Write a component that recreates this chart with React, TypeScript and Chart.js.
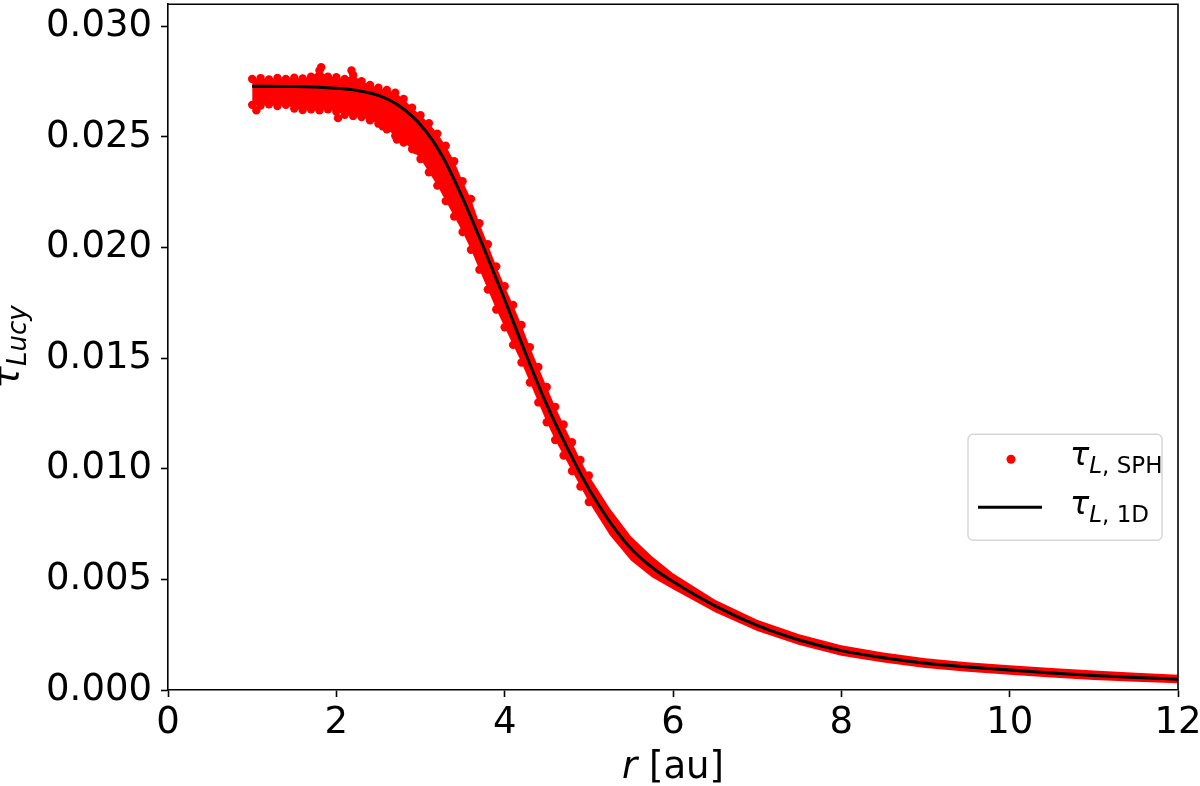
import React, { useEffect, useRef } from "react";
import { Chart, registerables } from "chart.js";
Chart.register(...registerables);

const FONT = "'DejaVu Sans', sans-serif";

// SPH particle band: radius [au], upper and lower envelope of the scatter
const sphR = [1.0, 1.1, 1.2, 1.3, 1.4, 1.5, 1.6, 1.7, 1.8, 1.9, 2.0, 2.1, 2.2, 2.3, 2.4, 2.5, 2.6, 2.7, 2.8, 2.9,
  3.0, 3.1, 3.2, 3.3, 3.4, 3.5, 3.6, 3.7, 3.8, 3.9, 4.0, 4.1, 4.2, 4.3, 4.4, 4.5, 4.6, 4.7, 4.8, 4.9,
  5.0, 5.25, 5.5, 5.75, 6.0, 6.5, 7.0, 7.5, 8.0, 8.5, 9.0, 9.5, 10.0, 10.5, 11.0, 11.5, 12.0];
const sphHi = [0.02762, 0.02766, 0.02760, 0.02767, 0.02762, 0.02768, 0.02764, 0.02772, 0.02800, 0.02772, 0.02770, 0.02762, 0.02780, 0.02752, 0.02735, 0.02722, 0.02712, 0.02700, 0.02672, 0.02632,
  0.02598, 0.02562, 0.02515, 0.02460, 0.02390, 0.02300, 0.02220, 0.02110, 0.02015, 0.01915, 0.01825, 0.01740, 0.01650, 0.01550, 0.01460, 0.01370, 0.01280, 0.01200, 0.01120, 0.01040,
  0.00970, 0.00820, 0.00695, 0.00605, 0.00528, 0.00408, 0.00318, 0.00252, 0.00202, 0.00169, 0.00144, 0.00126, 0.00112, 0.00099, 0.00088, 0.00078, 0.00069];
const sphLo = [0.02645, 0.02642, 0.02648, 0.02640, 0.02645, 0.02628, 0.02622, 0.02625, 0.02620, 0.02625, 0.02615, 0.02600, 0.02595, 0.02590, 0.02575, 0.02560, 0.02535, 0.02505, 0.02475, 0.02445,
  0.02400, 0.02340, 0.02280, 0.02210, 0.02140, 0.02070, 0.01990, 0.01900, 0.01810, 0.01720, 0.01640, 0.01560, 0.01480, 0.01390, 0.01300, 0.01210, 0.01130, 0.01060, 0.00990, 0.00920,
  0.00850, 0.00700, 0.00585, 0.00510, 0.00455, 0.00352, 0.00267, 0.00203, 0.00155, 0.00124, 0.00099, 0.00083, 0.00069, 0.00056, 0.00045, 0.00037, 0.00030];
// isolated SPH particles outside the band
const outR = [1.05, 1.82, 2.02, 2.18, 2.55, 2.72, 2.95];
const outTau = [0.02620, 0.02815, 0.02585, 0.02800, 0.02548, 0.02488, 0.02440];

// 1D reference solution
const lineR = [1.0, 1.5, 2.0, 2.25, 2.5, 2.75, 3.0, 3.25, 3.5, 3.75, 4.0, 4.25, 4.5, 4.75, 5.0, 5.25, 5.5, 5.75,
  6.0, 6.5, 7.0, 7.5, 8.0, 8.5, 9.0, 9.5, 10.0, 10.5, 11.0, 11.5, 12.0];
const lineTau = [0.02729, 0.02728, 0.02720, 0.02710, 0.02688, 0.02640, 0.02555, 0.02420, 0.02225, 0.02000, 0.01765, 0.01520, 0.01290, 0.01090, 0.00910, 0.00760, 0.00640, 0.00555,
  0.00490, 0.00380, 0.00292, 0.00226, 0.00178, 0.00146, 0.00121, 0.00104, 0.00090, 0.00077, 0.00066, 0.00057, 0.00049];

const xTicks = [0, 2, 4, 6, 8, 10, 12];
const yTicks = [0, 0.005, 0.01, 0.015, 0.02, 0.025, 0.03];
const yTickLabels = ["0.000", "0.005", "0.010", "0.015", "0.020", "0.025", "0.030"];

const RED = "#ff0000";

function pts(xs: number[], ys: number[]) {
  return xs.map((x, i) => ({ x, y: ys[i] }));
}

type Part = { t: string; f: string; dy: number };

function drawParts(ctx: CanvasRenderingContext2D, x: number, y: number, parts: Part[]) {
  let cx = x;
  for (const p of parts) {
    ctx.font = p.f;
    ctx.fillText(p.t, cx, y + p.dy);
    cx += ctx.measureText(p.t).width;
  }
  return cx - x;
}

function measureParts(ctx: CanvasRenderingContext2D, parts: Part[]) {
  let w = 0;
  for (const p of parts) {
    ctx.font = p.f;
    w += ctx.measureText(p.t).width;
  }
  return w;
}

export default function App() {
  const ref = useRef<HTMLCanvasElement>(null);
  useEffect(() => {
    document.body.style.margin = "0";
    const canvas = ref.current!;

    const decor = {
      id: "decor",
      afterDraw(chart: any) {
        const ctx: CanvasRenderingContext2D = chart.ctx;
        const a = chart.chartArea;
        ctx.save();
        ctx.strokeStyle = "#000";
        ctx.lineWidth = 1.6;
        ctx.beginPath();
        ctx.moveTo(a.left, a.top);
        ctx.lineTo(a.right, a.top);
        ctx.lineTo(a.right, a.bottom);
        ctx.stroke();

        ctx.fillStyle = "#000";
        ctx.textBaseline = "alphabetic";
        ctx.textAlign = "left";
        const xParts: Part[] = [
          { t: "r", f: `italic 37px ${FONT}`, dy: 0 },
          { t: " [au]", f: `37px ${FONT}`, dy: 0 },
        ];
        const xw = measureParts(ctx, xParts);
        drawParts(ctx, (a.left + a.right) / 2 - xw / 2, 778, xParts);

        const yParts: Part[] = [
          { t: "τ", f: `italic 38px ${FONT}`, dy: 0 },
          { t: "Lucy", f: `italic 26px ${FONT}`, dy: 8 },
        ];
        const yw = measureParts(ctx, yParts);
        ctx.save();
        ctx.translate(18, (a.top + a.bottom) / 2);
        ctx.rotate(-Math.PI / 2);
        drawParts(ctx, -yw / 2, 0, yParts);
        ctx.restore();

        // legend
        const lx = a.right - 210, ly = a.top + 430, lw = 194, lh = 106;
        ctx.beginPath();
        (ctx as any).roundRect(lx, ly, lw, lh, 5);
        ctx.fillStyle = "rgba(255,255,255,0.85)";
        ctx.fill();
        ctx.strokeStyle = "#d6d6d6";
        ctx.lineWidth = 1.5;
        ctx.stroke();

        ctx.fillStyle = RED;
        ctx.beginPath();
        ctx.arc(lx + 43, ly + 25, 4.5, 0, Math.PI * 2);
        ctx.fill();

        ctx.strokeStyle = "#000";
        ctx.lineWidth = 3;
        ctx.beginPath();
        ctx.moveTo(lx + 10, ly + 73);
        ctx.lineTo(lx + 74, ly + 73);
        ctx.stroke();

        ctx.fillStyle = "#000";
        drawParts(ctx, lx + 102, ly + 31, [
          { t: "τ", f: `italic 32px ${FONT}`, dy: 0 },
          { t: "L", f: `italic 23px ${FONT}`, dy: 8 },
          { t: ", SPH", f: `23px ${FONT}`, dy: 8 },
        ]);
        drawParts(ctx, lx + 102, ly + 80, [
          { t: "τ", f: `italic 32px ${FONT}`, dy: 0 },
          { t: "L", f: `italic 23px ${FONT}`, dy: 8 },
          { t: ", 1D", f: `23px ${FONT}`, dy: 8 },
        ]);
        ctx.restore();
      },
    };

    const markerRadius = (c: any) => (c.raw && c.raw.x <= 5.0 ? 4.2 : 0);

    const chart = new Chart(canvas, {
      type: "scatter",
      data: {
        datasets: [
          {
            label: "lo",
            data: pts(sphR, sphLo),
            showLine: true,
            borderWidth: 0,
            borderColor: RED,
            backgroundColor: RED,
            pointRadius: markerRadius,
            pointBorderWidth: 0,
            fill: false,
            order: 3,
          },
          {
            label: "hi",
            data: pts(sphR, sphHi),
            showLine: true,
            borderWidth: 0,
            borderColor: RED,
            backgroundColor: RED,
            pointRadius: markerRadius,
            pointBorderWidth: 0,
            fill: "-1",
            order: 2,
          },
          {
            label: "out",
            data: pts(outR, outTau),
            showLine: false,
            backgroundColor: RED,
            pointRadius: 4.2,
            pointBorderWidth: 0,
            order: 1,
          },
          {
            label: "1D",
            data: pts(lineR, lineTau),
            showLine: true,
            borderColor: "#000",
            borderWidth: 3,
            pointRadius: 0,
            cubicInterpolationMode: "monotone",
            fill: false,
            order: 0,
          },
        ],
      },
      options: {
        animation: false,
        responsive: false,
        events: [],
        layout: { padding: { left: 0, right: 22, top: 2, bottom: 0 } },
        plugins: { legend: { display: false }, tooltip: { enabled: false }, filler: { propagate: false } },
        scales: {
          x: {
            type: "linear",
            min: 0,
            max: 12,
            afterBuildTicks: (s: any) => { s.ticks = xTicks.map((v) => ({ value: v })); },
            afterFit: (s: any) => { s.height = 96; s.paddingLeft = 0; s.paddingRight = 0; },
            grid: { drawOnChartArea: false, drawTicks: true, tickLength: 7, tickColor: "#000", tickWidth: 1.6 },
            border: { display: true, color: "#000", width: 1.6 },
            ticks: { color: "#000", font: { family: FONT, size: 37 }, padding: 4, maxRotation: 0, autoSkip: false, callback: (v: any) => String(v) },
          },
          y: {
            type: "linear",
            min: 0,
            max: 0.031,
            afterBuildTicks: (s: any) => { s.ticks = yTicks.map((v) => ({ value: v })); },
            afterFit: (s: any) => { s.width = 168; s.paddingTop = 0; s.paddingBottom = 0; },
            grid: { drawOnChartArea: false, drawTicks: true, tickLength: 7, tickColor: "#000", tickWidth: 1.6 },
            border: { display: true, color: "#000", width: 1.6 },
            ticks: {
              color: "#000",
              font: { family: FONT, size: 37 },
              padding: 9,
              autoSkip: false,
              callback: (v: any) => {
                const i = yTicks.findIndex((t) => Math.abs(t - v) < 1e-9);
                return i >= 0 ? yTickLabels[i] : "";
              },
            },
          },
        },
      },
      plugins: [decor],
    } as any);
    return () => chart.destroy();
  }, []);

  return (
    <div style={{ position: "absolute", left: 0, top: 0, width: 1200, height: 786, background: "#fff" }}>
      <canvas ref={ref} width={1200} height={786} style={{ display: "block", width: 1200, height: 786 }} />
    </div>
  );
}
